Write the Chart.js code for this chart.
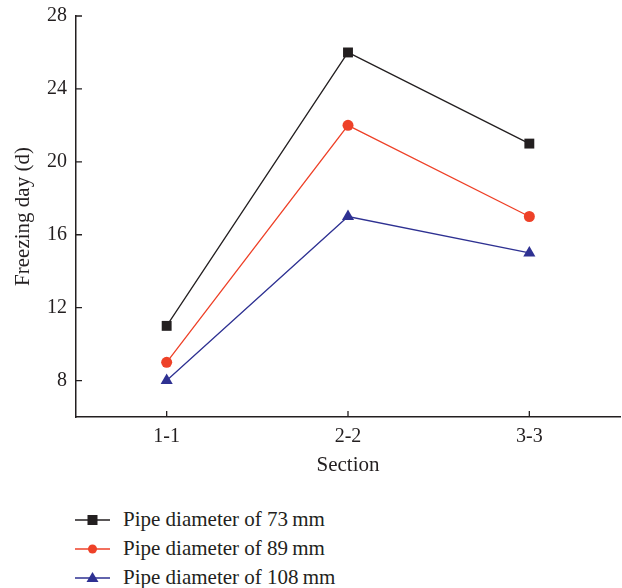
<!DOCTYPE html>
<html lang="en">
<head>
<meta charset="UTF-8">
<title>Freezing day by section</title>
<script src="https://cdn.jsdelivr.net/npm/chart.js"></script>
<style>
    body {
        margin: 0;
        background: #fff;
        font-family: "Liberation Serif", "DejaVu Serif", serif;
    }
    .wrap {
        position: relative;
        width: 622px;
        height: 588px;
        overflow: hidden;
    }
    #chartBox {
        position: absolute;
        left: 0;
        top: 0;
        width: 622px;
        height: 490px;
    }
    #legend {
        position: absolute;
        left: 75px;
        top: 505px;
        color: #231f20;
        font-size: 21px;
    }
    .item {
        display: flex;
        align-items: center;
        height: 29px;
    }
    .item svg {
        margin-right: 13px;
    }
</style>
</head>
<body>

<div class="wrap">
    <div id="chartBox"><canvas id="grafico"></canvas></div>
    <div id="legend"></div>
</div>

<script>
// categorie e valori
const sections = ['1-1', '2-2', '3-3'];
const pipe73 = [11, 26, 21];
const pipe89 = [9, 22, 17];
const pipe108 = [8, 17, 15];
const yTicks = [8, 12, 16, 20, 24, 28];

const serieNames = ['Pipe diameter of 73\u2009mm', 'Pipe diameter of 89\u2009mm', 'Pipe diameter of 108\u2009mm'];
const colori = ['#231f20', '#ee4128', '#2e3192'];
const simboli = ['rect', 'circle', 'triangle'];
const raggi = [7, 5.5, 7];

const famiglia = '"Liberation Serif", "DejaVu Serif", serif';
const font = { family: famiglia, size: 20 };
const fontY = { family: famiglia, size: 20, lineHeight: 0.7 };
const fontTitolo = { family: famiglia, size: 21 };
const axisColor = '#231f20';

const valori = [pipe73, pipe89, pipe108];
const datasets = valori.map((v, i) => ({
    label: serieNames[i],
    data: v,
    borderColor: colori[i],
    backgroundColor: colori[i],
    borderWidth: 1.3,
    pointStyle: simboli[i],
    pointRadius: raggi[i],
    pointHoverRadius: raggi[i],
    pointBorderWidth: 0,
    tension: 0
}));

// tacche rivolte verso l'interno
const tickInterni = {
    id: 'tickInterni',
    afterDraw(chart) {
        const ctx = chart.ctx;
        const x = chart.scales.x, y = chart.scales.y;
        ctx.save();
        ctx.strokeStyle = axisColor;
        ctx.lineWidth = 1.3;
        ctx.beginPath();
        y.ticks.forEach(t => {
            const py = y.getPixelForValue(t.value);
            ctx.moveTo(y.right, py);
            ctx.lineTo(y.right + 6, py);
        });
        x.ticks.forEach((t, i) => {
            const px = x.getPixelForTick(i);
            ctx.moveTo(px, x.top);
            ctx.lineTo(px, x.top - 6);
        });
        ctx.stroke();
        ctx.restore();
    }
};

let ctx = document.getElementById('grafico').getContext('2d');
let chart = new Chart(ctx, {
    type: 'line',
    data: { labels: sections, datasets: datasets },
    plugins: [tickInterni],
    options: {
        responsive: true,
        maintainAspectRatio: false,
        animation: false,
        layout: { autoPadding: false, padding: { top: 16, right: 2, left: 0, bottom: 0 } },
        plugins: {
            legend: { display: false },
            tooltip: { enabled: false }
        },
        scales: {
            x: {
                offset: true,
                grid: { display: false, drawTicks: false },
                border: { display: true, color: axisColor, width: 1.5 },
                ticks: { color: axisColor, font: font, padding: 8 },
                title: { display: true, text: 'Section', color: axisColor, font: fontTitolo, padding: { top: 6, bottom: 12 } },
                afterFit(s) { s.height = 73; }
            },
            y: {
                min: 6,
                max: 28,
                grid: { display: false, drawTicks: false },
                border: { display: true, color: axisColor, width: 1.5 },
                ticks: { color: axisColor, font: fontY, padding: 9 },
                afterBuildTicks(s) { s.ticks = yTicks.map(v => ({ value: v })); },
                title: { display: true, text: 'Freezing day (d)', color: axisColor, font: fontTitolo, padding: { top: 11, bottom: 0 } },
                afterFit(s) { s.width = 76; }
            }
        }
    }
});

// legenda in HTML costruita dalle serie
const legenda = document.getElementById('legend');
serieNames.forEach((nome, i) => {
    let marker = '';
    if (simboli[i] === 'rect') marker = '<rect x="12.5" y="5" width="10" height="10" fill="' + colori[i] + '"/>';
    if (simboli[i] === 'circle') marker = '<circle cx="17.5" cy="10" r="4.5" fill="' + colori[i] + '"/>';
    if (simboli[i] === 'triangle') marker = '<polygon points="17.5,4 23.5,14 11.5,14" fill="' + colori[i] + '"/>';
    const div = document.createElement('div');
    div.className = 'item';
    div.innerHTML = '<svg width="35" height="20"><line x1="0" y1="10" x2="35" y2="10" stroke="' + colori[i] +
        '" stroke-width="1.5"/>' + marker + '</svg><span>' + nome + '</span>';
    legenda.appendChild(div);
});
</script>

</body>
</html>
